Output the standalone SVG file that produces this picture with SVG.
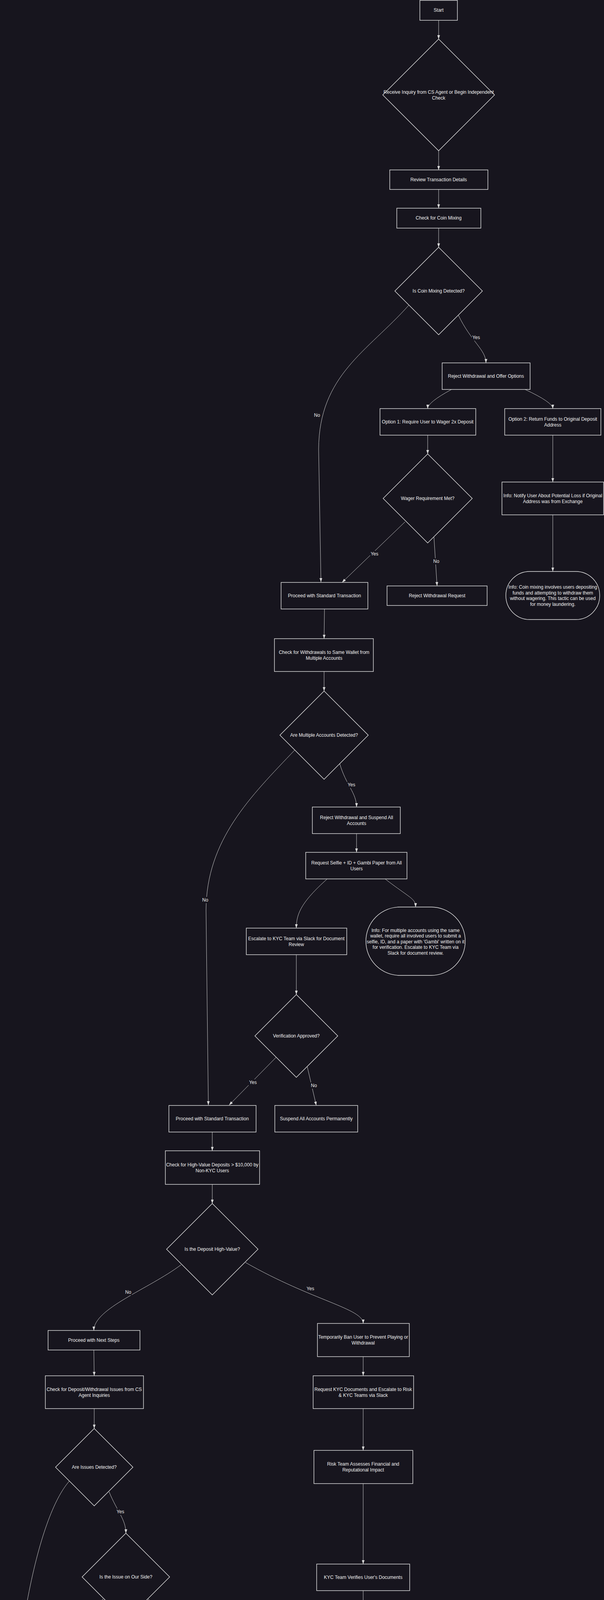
<svg xmlns="http://www.w3.org/2000/svg" width="1545" height="6550" viewBox="0 0 1545 6550">
<defs>
<marker id="ah" viewBox="0 0 10 7" refX="10" refY="3.5" markerWidth="10" markerHeight="7" markerUnits="userSpaceOnUse" orient="auto"><path d="M0,0 L10,3.5 L0,7 z" fill="#d8d8d8"/></marker>
<style>
.n rect,.n polygon{fill:#17151e;stroke:#e6e6e6;stroke-width:1.4}
.t{font-family:"Liberation Sans",Arial,sans-serif;font-size:12px;fill:#f2f2f2;text-anchor:middle}
.e path{fill:none;stroke:#d0d0d0;stroke-width:1;marker-end:url(#ah)}
.lbl rect{fill:#17151e}
.lbl text{font-family:"Liberation Sans",Arial,sans-serif;font-size:12px;fill:#f2f2f2;text-anchor:middle}
</style>
</defs>
<rect x="0" y="0" width="1545" height="6550" fill="#17151e"/>

<g id="edges" class="e">
<path d="M1122,52 L1122,100"/>
<path d="M1122,386 L1122,435"/>
<path d="M1122,485 L1122,533"/>
<path d="M1122,584 L1122,633"/>
<path d="M1172,806 C1205,875 1243,895 1243,929"/>
<path d="M1046,781 C940,900 816,960 815,1150 L821,1490"/>
<path d="M1155,997 Q1094,1030 1094,1046"/>
<path d="M1343,997 Q1414,1030 1414,1046"/>
<path d="M1094,1114 L1094,1162"/>
<path d="M1414,1114 L1414,1234"/>
<path d="M1036,1336 L875,1491"/>
<path d="M1110,1375 L1118,1500"/>
<path d="M1414,1318 L1414,1463"/>
<path d="M830,1559 L829,1635"/>
<path d="M829,1719 L829,1769"/>
<path d="M869,1955 C885,2010 912,2030 912,2066"/>
<path d="M755,1919 C640,2040 528,2150 527,2330 L533,2829"/>
<path d="M912,2134 L912,2182"/>
<path d="M837,2250 C770,2310 758,2340 758,2376"/>
<path d="M985,2250 C1050,2300 1063,2300 1063,2322"/>
<path d="M758,2444 L758,2546"/>
<path d="M707,2706 L586,2829"/>
<path d="M786,2731 L809,2830"/>
<path d="M543,2898 L543,2946"/>
<path d="M543,3032 L543,3081"/>
<path d="M463,3238 C380,3300 240,3350 240,3406"/>
<path d="M628,3232 C800,3330 929,3350 929,3388"/>
<path d="M240,3456 L241,3522"/>
<path d="M929,3473 L929,3522"/>
<path d="M241,3606 L241,3657"/>
<path d="M929,3606 L929,3713"/>
<path d="M279,3819 C300,3870 322,3890 322,3925"/>
<path d="M177,3792 C100,3880 20,4200 12,4800 L10,5300 C12,5800 40,6200 91,6375"/>
<path d="M929,3798 L929,4004"/>
<path d="M264,4093 C200,4160 172,4200 172,4265"/>
<path d="M379,4093 C440,4160 474,4200 474,4265"/>
<path d="M929,4072 L929,4221"/>
<path d="M884,4332 C800,4420 779,4470 779,4542"/>
<path d="M974,4332 C1060,4420 1079,4470 1079,4542"/>
<path d="M474,4333 L474,4449"/>
<path d="M412,4642 C340,4740 322,4790 322,4859"/>
<path d="M535,4644 C600,4720 620,4740 620,4775"/>
<path d="M1079,4610 L1080,4849"/>
<path d="M562,4951 C490,5050 468,5090 468,5152"/>
<path d="M677,4954 C740,5030 760,5050 760,5082"/>
<path d="M707,5233 C630,5330 607,5380 607,5456"/>
<path d="M815,5236 C890,5310 912,5320 912,5361"/>
<path d="M849,5558 C775,5660 760,5700 760,5787"/>
<path d="M974,5557 C1050,5640 1065,5650 1065,5692"/>
<path d="M1002,5888 C925,5990 908,6030 908,6097"/>
<path d="M1126,5891 C1195,5970 1211,5990 1211,6022"/>
<path d="M1166,6232 C1150,6290 1180,6330 1234,6355"/>
<path d="M1210,6277 Q1000,6340 248,6390" style="stroke-width:1.8"/>
<path d="M128,6426 L128,6500"/>
</g>

<g id="edge-labels" class="lbl">
<rect x="1207" y="856" width="22" height="16"/><text x="1218" y="868">Yes</text>
<rect x="802" y="1055" width="18" height="16"/><text x="811" y="1067">No</text>
<rect x="947" y="1410" width="22" height="16"/><text x="958" y="1422">Yes</text>
<rect x="1107" y="1429" width="18" height="16"/><text x="1116" y="1441">No</text>
<rect x="888" y="2001" width="22" height="16"/><text x="899" y="2013">Yes</text>
<rect x="516" y="2296" width="18" height="16"/><text x="525" y="2308">No</text>
<rect x="636" y="2763" width="22" height="16"/><text x="647" y="2775">Yes</text>
<rect x="794" y="2771" width="18" height="16"/><text x="803" y="2783">No</text>
<rect x="319" y="3300" width="18" height="16"/><text x="328" y="3312">No</text>
<rect x="783" y="3291" width="22" height="16"/><text x="794" y="3303">Yes</text>
<rect x="297" y="3862" width="22" height="16"/><text x="308" y="3874">Yes</text>
<rect x="0" y="5049" width="17" height="16"/><text x="8" y="5061">No</text>
<rect x="179" y="4159" width="22" height="16"/><text x="190" y="4171">Yes</text>
<rect x="445" y="4159" width="18" height="16"/><text x="454" y="4171">No</text>
<rect x="767" y="4403" width="22" height="16"/><text x="778" y="4415">Yes</text>
<rect x="1068" y="4403" width="18" height="16"/><text x="1077" y="4415">No</text>
<rect x="314" y="4726" width="22" height="16"/><text x="325" y="4738">Yes</text>
<rect x="580" y="4697" width="18" height="16"/><text x="589" y="4709">No</text>
<rect x="466" y="5028" width="22" height="16"/><text x="477" y="5040">Yes</text>
<rect x="721" y="5006" width="18" height="16"/><text x="730" y="5018">No</text>
<rect x="597" y="5317" width="22" height="16"/><text x="608" y="5329">Yes</text>
<rect x="866" y="5284" width="18" height="16"/><text x="875" y="5296">No</text>
<rect x="748" y="5648" width="22" height="16"/><text x="759" y="5660">Yes</text>
<rect x="1021" y="5612" width="18" height="16"/><text x="1030" y="5624">No</text>
<rect x="905" y="5969" width="22" height="16"/><text x="916" y="5981">Yes</text>
<rect x="1171" y="5944" width="18" height="16"/><text x="1180" y="5956">No</text>
<rect x="1123" y="6310" width="22" height="16"/><text x="1134" y="6322">Yes</text>
<rect x="757" y="6342" width="18" height="16"/><text x="766" y="6354">No</text>
</g>

<g id="n-start" class="n"><rect x="1074" y="1" width="96" height="51"/><text class="t" x="1122" y="30">Start</text></g>
<g id="n-receive" class="n"><polygon points="1122,100 1265,243 1122,386 979,243"/><text class="t" x="1122" y="240"><tspan x="1122">Receive Inquiry from CS Agent or Begin Independent</tspan><tspan x="1122" dy="15">Check</tspan></text></g>
<g id="n-review" class="n"><rect x="997" y="435" width="251" height="50"/><text class="t" x="1122" y="464">Review Transaction Details</text></g>
<g id="n-checkmix" class="n"><rect x="1015" y="533" width="215" height="51"/><text class="t" x="1122" y="562">Check for Coin Mixing</text></g>
<g id="n-mixdetected" class="n"><polygon points="1122,633 1234,745 1122,857 1010,745"/><text class="t" x="1122" y="749">Is Coin Mixing Detected?</text></g>
<g id="n-rejectoffer" class="n"><rect x="1131" y="929" width="225" height="68"/><text class="t" x="1243" y="967">Reject Withdrawal and Offer Options</text></g>
<g id="n-option1" class="n"><rect x="972" y="1046" width="245" height="68"/><text class="t" x="1094" y="1084">Option 1: Require User to Wager 2x Deposit</text></g>
<g id="n-option2" class="n"><rect x="1291" y="1046" width="246" height="68"/><text class="t" x="1414" y="1077"><tspan x="1414">Option 2: Return Funds to Original Deposit</tspan><tspan x="1414" dy="15">Address</tspan></text></g>
<g id="n-wager" class="n"><polygon points="1094,1162 1208,1276 1094,1390 980,1276"/><text class="t" x="1094" y="1280">Wager Requirement Met?</text></g>
<g id="n-infonotify" class="n"><rect x="1284" y="1234" width="260" height="84"/><text class="t" x="1414" y="1273"><tspan x="1414">Info: Notify User About Potential Loss if Original</tspan><tspan x="1414" dy="15">Address was from Exchange</tspan></text></g>
<g id="n-proceedA" class="n"><rect x="719" y="1491" width="222" height="68"/><text class="t" x="830" y="1529">Proceed with Standard Transaction</text></g>
<g id="n-rejectreq" class="n"><rect x="990" y="1500" width="256" height="50"/><text class="t" x="1118" y="1529">Reject Withdrawal Request</text></g>
<g id="n-infomix" class="n"><rect x="1294" y="1463" width="240" height="123" rx="61" ry="61"/><text class="t" x="1414" y="1507"><tspan x="1414">Info: Coin mixing involves users depositing</tspan><tspan x="1414" dy="14.7">funds and attempting to withdraw them</tspan><tspan x="1414" dy="14.7">without wagering. This tactic can be used</tspan><tspan x="1414" dy="14.7">for money laundering.</tspan></text></g>
<g id="n-checkwallet" class="n"><rect x="702" y="1635" width="253" height="84"/><text class="t" x="829" y="1674"><tspan x="829">Check for Withdrawals to Same Wallet from</tspan><tspan x="829" dy="15">Multiple Accounts</tspan></text></g>
<g id="n-multidetected" class="n"><polygon points="829,1769 942,1882 829,1995 716,1882"/><text class="t" x="829" y="1886">Are Multiple Accounts Detected?</text></g>
<g id="n-rejectsuspend" class="n"><rect x="799" y="2066" width="225" height="68"/><text class="t" x="912" y="2097"><tspan x="912">Reject Withdrawal and Suspend All</tspan><tspan x="912" dy="15">Accounts</tspan></text></g>
<g id="n-requestselfie" class="n"><rect x="782" y="2182" width="259" height="68"/><text class="t" x="912" y="2213"><tspan x="912">Request Selfie + ID + Gambi Paper from All</tspan><tspan x="912" dy="15">Users</tspan></text></g>
<g id="n-escalatekyc" class="n"><rect x="630" y="2376" width="257" height="68"/><text class="t" x="758" y="2407"><tspan x="758">Escalate to KYC Team via Slack for Document</tspan><tspan x="758" dy="15">Review</tspan></text></g>
<g id="n-infomulti" class="n"><rect x="936" y="2322" width="254" height="175" rx="87" ry="87"/><text class="t" x="1063" y="2386"><tspan x="1063">Info: For multiple accounts using the same</tspan><tspan x="1063" dy="14.4">wallet, require all involved users to submit a</tspan><tspan x="1063" dy="14.4">selfie, ID, and a paper with 'Gambi' written on it</tspan><tspan x="1063" dy="14.4">for verification. Escalate to KYC Team via</tspan><tspan x="1063" dy="14.4">Slack for document review.</tspan></text></g>
<g id="n-verifapproved" class="n"><polygon points="758,2546 864,2652 758,2758 652,2652"/><text class="t" x="758" y="2656">Verification Approved?</text></g>
<g id="n-proceedB" class="n"><rect x="432" y="2830" width="223" height="68"/><text class="t" x="543" y="2868">Proceed with Standard Transaction</text></g>
<g id="n-suspendperm" class="n"><rect x="703" y="2830" width="212" height="68"/><text class="t" x="809" y="2868">Suspend All Accounts Permanently</text></g>
<g id="n-checkhigh" class="n"><rect x="423" y="2946" width="241" height="86"/><text class="t" x="543" y="2986"><tspan x="543">Check for High-Value Deposits &gt; $10,000 by</tspan><tspan x="543" dy="15">Non-KYC Users</tspan></text></g>
<g id="n-ishigh" class="n"><polygon points="543,3081 660,3198 543,3315 426,3198"/><text class="t" x="543" y="3202">Is the Deposit High-Value?</text></g>
<g id="n-nextA" class="n"><rect x="123" y="3406" width="235" height="50"/><text class="t" x="240" y="3435">Proceed with Next Steps</text></g>
<g id="n-tempban" class="n"><rect x="812" y="3388" width="235" height="85"/><text class="t" x="929" y="3427"><tspan x="929">Temporarily Ban User to Prevent Playing or</tspan><tspan x="929" dy="15">Withdrawal</tspan></text></g>
<g id="n-checkissues" class="n"><rect x="116" y="3522" width="251" height="84"/><text class="t" x="241" y="3561"><tspan x="241">Check for Deposit/Withdrawal Issues from CS</tspan><tspan x="241" dy="15">Agent Inquiries</tspan></text></g>
<g id="n-requestkyc" class="n"><rect x="801" y="3522" width="257" height="84"/><text class="t" x="929" y="3561"><tspan x="929">Request KYC Documents and Escalate to Risk</tspan><tspan x="929" dy="15">&amp; KYC Teams via Slack</tspan></text></g>
<g id="n-issuesdetected" class="n"><polygon points="241,3657 340,3756 241,3855 142,3756"/><text class="t" x="241" y="3760">Are Issues Detected?</text></g>
<g id="n-riskteam" class="n"><rect x="803" y="3713" width="253" height="85"/><text class="t" x="929" y="3752"><tspan x="929">Risk Team Assesses Financial and</tspan><tspan x="929" dy="15">Reputational Impact</tspan></text></g>
<g id="n-ourside" class="n"><polygon points="322,3925 434,4037 322,4149 210,4037"/><text class="t" x="322" y="4041">Is the Issue on Our Side?</text></g>
<g id="n-kycverify" class="n"><rect x="810" y="4004" width="238" height="68"/><text class="t" x="929" y="4042">KYC Team Verifies User's Documents</text></g>
<g id="n-escalatemgmt" class="n"><rect x="43" y="4265" width="257" height="68"/><text class="t" x="172" y="4303">Escalate Issue to Management for Resolution</text></g>
<g id="n-determine" class="n"><rect x="349" y="4265" width="250" height="68"/><text class="t" x="474" y="4303">Determine Cause of User's Issue</text></g>
<g id="n-kycapproved" class="n"><polygon points="929,4221 1006,4298 929,4375 852,4298"/><text class="t" x="929" y="4302">KYC Approved?</text></g>
<g id="n-wrongaddr" class="n"><polygon points="474,4449 601,4576 474,4703 347,4576"/><text class="t" x="474" y="4580">Did User Deposit to Wrong Address?</text></g>
<g id="n-unban" class="n"><rect x="651" y="4542" width="255" height="68"/><text class="t" x="779" y="4580">Unban User and Resume All Operations</text></g>
<g id="n-maintainban" class="n"><rect x="956" y="4542" width="247" height="68"/><text class="t" x="1079" y="4580">Maintain Ban and Document for Compliance</text></g>
<g id="n-inform1" class="n"><rect x="195" y="4859" width="253" height="67"/><text class="t" x="322" y="4897">Inform User: Funds Cannot Be Retrieved</text></g>
<g id="n-wrongcoin" class="n"><polygon points="620,4776 737,4893 620,5010 503,4893"/><text class="t" x="620" y="4897">Did User Deposit Wrong Coin?</text></g>
<g id="n-infoban" class="n"><rect x="967" y="4849" width="226" height="87" rx="43" ry="43"/><text class="t" x="1080" y="4882"><tspan x="1080">Info: Maintain ban on user if KYC</tspan><tspan x="1080" dy="14.5">verification fails. Document for</tspan><tspan x="1080" dy="14.5">compliance and reporting.</tspan></text></g>
<g id="n-inform2" class="n"><rect x="342" y="5152" width="253" height="68"/><text class="t" x="468" y="5190">Inform User: Funds Cannot Be Retrieved</text></g>
<g id="n-wrongnet" class="n"><polygon points="760,5082 863,5185 760,5288 657,5185"/><text class="t" x="760" y="5189">Did User Use Wrong Network?</text></g>
<g id="n-inform3" class="n"><rect x="481" y="5456" width="253" height="69"/><text class="t" x="607" y="5494">Inform User: Funds Cannot Be Retrieved</text></g>
<g id="n-smartcontract" class="n"><polygon points="912,5361 1041,5490 912,5619 783,5490"/><text class="t" x="912" y="5494">Did User Deposit via Smart Contract?</text></g>
<g id="n-inform4" class="n"><rect x="634" y="5787" width="253" height="69"/><text class="t" x="760" y="5825">Inform User: Funds Cannot Be Retrieved</text></g>
<g id="n-pending" class="n"><polygon points="1065,5692 1194,5821 1065,5950 936,5821"/><text class="t" x="1065" y="5825">Is Transaction Still Pending on Blockchain?</text></g>
<g id="n-confirmations" class="n"><rect x="790" y="6097" width="237" height="104"/><text class="t" x="908" y="6146"><tspan x="908">Inform User: Transaction Needs Sufficient</tspan><tspan x="908" dy="15">Confirmations to Be Credited</tspan></text></g>
<g id="n-failed" class="n"><polygon points="1211,6022 1339,6150 1211,6278 1083,6150"/><text class="t" x="1211" y="6154">Was Transaction Failed on Blockchain?</text></g>
<g id="n-nextB" class="n"><rect x="10" y="6375" width="236" height="51"/><text class="t" x="128" y="6404">Proceed with Next Steps</text></g>
<g id="n-end" class="n"><rect x="84" y="6500" width="87" height="49"/><text class="t" x="128" y="6529">End</text></g>
<g id="n-informfailed" class="n"><rect x="1235" y="6349" width="238" height="103"/><text class="t" x="1354" y="6390"><tspan x="1354">Inform User: Transaction Failed on</tspan><tspan x="1354" dy="14.5">Blockchain, Advise User to Contact Wallet</tspan><tspan x="1354" dy="14.5">Support</tspan></text></g>
</svg>
